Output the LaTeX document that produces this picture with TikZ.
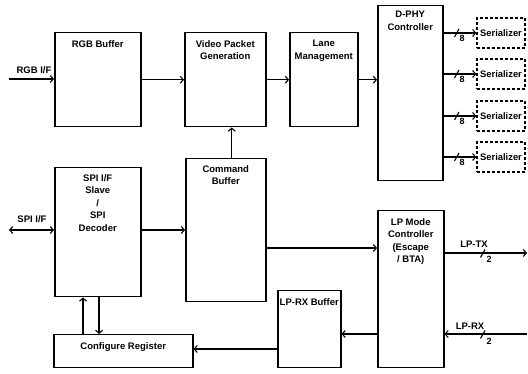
\documentclass[tikz,border=0pt]{standalone}
\usepackage{fontspec}
\setmainfont{Liberation Sans}
\usetikzlibrary{arrows.meta}
\begin{document}
\begin{tikzpicture}[x=1pt,y=-1pt,
  box/.style={draw,line width=1.5pt,anchor=north west,inner sep=0pt},
  serbox/.style={draw,line width=1.4pt,dash pattern=on 3pt off 2pt,minimum width=48pt,minimum height=30pt,inner sep=0pt,font=\fontsize{9.4}{10}\selectfont\bfseries},
  lbl/.style={anchor=north,inner sep=0pt,align=center,font=\fontsize{9.5}{12.6}\selectfont\bfseries},
  txt/.style={inner sep=0pt,font=\fontsize{9.5}{11}\selectfont\bfseries},
  small/.style={inner sep=0pt,font=\fontsize{9}{9}\selectfont\bfseries},
  conn/.style={line width=1.1pt,-{Straight Barb[length=3pt,width=7pt]}},
  dconn/.style={line width=1.1pt,{Straight Barb[length=3pt,width=7pt]}-{Straight Barb[length=3pt,width=7pt]}},
  slashmark/.style={line width=1.1pt}
]
\useasboundingbox (0,0) rectangle (528,374);

% boxes
\node[box,minimum width=86pt,minimum height=94pt] (rgb) at (54,32) {};
\node[box,minimum width=81pt,minimum height=94pt] (vpg) at (184,32) {};
\node[box,minimum width=68pt,minimum height=94pt] (lm) at (289,32) {};
\node[box,minimum width=65pt,minimum height=175pt] (dphy) at (377,5) {};
\node[box,minimum width=86pt,minimum height=129pt] (spi) at (54,167) {};
\node[box,minimum width=80pt,minimum height=143pt] (cb) at (185,158) {};
\node[box,minimum width=66pt,minimum height=157pt] (lp) at (377,210) {};
\node[box,minimum width=63pt,minimum height=77pt] (lprx) at (277,290) {};
\node[box,minimum width=139pt,minimum height=33pt] (cfg) at (53,334) {};

% box labels
\node[lbl] (rgbt) at ([yshift=-8]rgb.north) {RGB Buffer};
\node[lbl] (vpgt) at ([yshift=-8]vpg.north) {Video Packet\\Generation};
\node[lbl] (lmt) at ([yshift=-8]lm.north) {Lane\\Management};
\node[lbl] (dphyt) at ([yshift=-6]dphy.north) {D-PHY\\Controller};
\node[lbl] (spit) at ([yshift=-7]spi.north) {SPI I/F\\Slave\\/\\SPI\\Decoder};
\node[lbl] (cbt) at ([yshift=-7]cb.north) {Command\\Buffer};
\node[lbl] (lpt) at ([yshift=-8]lp.north) {LP Mode\\Controller\\(Escape\\/ BTA)};
\node[lbl] (lprxt) at ([yshift=-8]lprx.north) {LP-RX Buffer};
\node[lbl] (cfgt) at ([yshift=-8]cfg.north) {Configure Register};

% serializers
\foreach \i/\y in {1/33,2/74,3/116,4/157}{
  \node[serbox] (ser\i) at (501,\y) {Serializer};
  \draw[conn] (dphy.east |- ser\i.west) -- (ser\i.west);
  \draw[slashmark] (454.5,\y+4) -- (459,\y-4);
  \node[small] (eight\i) at (462,\y+5.5) {8};
}

% inputs
\coordinate (rgbin) at (9,79);
\draw[conn] (rgbin) -- (rgbin -| rgb.west);
\node[txt] (rgbl) at (34,70) {RGB I/F};
\coordinate (spiin) at (9,230);
\draw[dconn] (spiin) -- (spiin -| spi.west);
\node[txt] (spil) at (32,219) {SPI I/F};

% main chain
\draw[conn] (rgb.east) -- (vpg.west);
\draw[conn] (vpg.east) -- (lm.west);
\draw[conn] (lm.east) -- (lm.east -| dphy.west);
\draw[conn] ([xshift=6]cb.north) -- ([xshift=6]cb.north |- vpg.south);
\draw[conn] (spi.east |- 0,230) -- (cb.west |- 0,230);
\draw[conn] (cb.east |- 0,248) -- (lp.west |- 0,248);

% LP side
\coordinate (lptx) at (527,253);
\draw[conn] (lp.east |- lptx) -- (lptx);
\node[txt] (lptxl) at (474,244) {LP-TX};
\draw[slashmark] (480.5,257.5) -- (485,249.5);
\node[small] (two1) at (489,259.5) {2};

\coordinate (lprxin) at (527,334);
\draw[conn] (lprxin) -- (lprxin -| lp.east);
\node[txt] (lprxl) at (470,326) {LP-RX};
\draw[slashmark] (480.5,338.5) -- (485,330.5);
\node[small] (two2) at (489,341.5) {2};

\draw[conn] (lp.west |- lprxin) -- (lprx.east |- lprxin);
\draw[conn] (lprx.west |- 0,349) -- (cfg.east |- 0,349);

% config <-> spi
\draw[conn] (83,0 |- cfg.north) -- (83,0 |- spi.south);
\draw[conn] (99,0 |- spi.south) -- (99,0 |- cfg.north);
\end{tikzpicture}
\end{document}
